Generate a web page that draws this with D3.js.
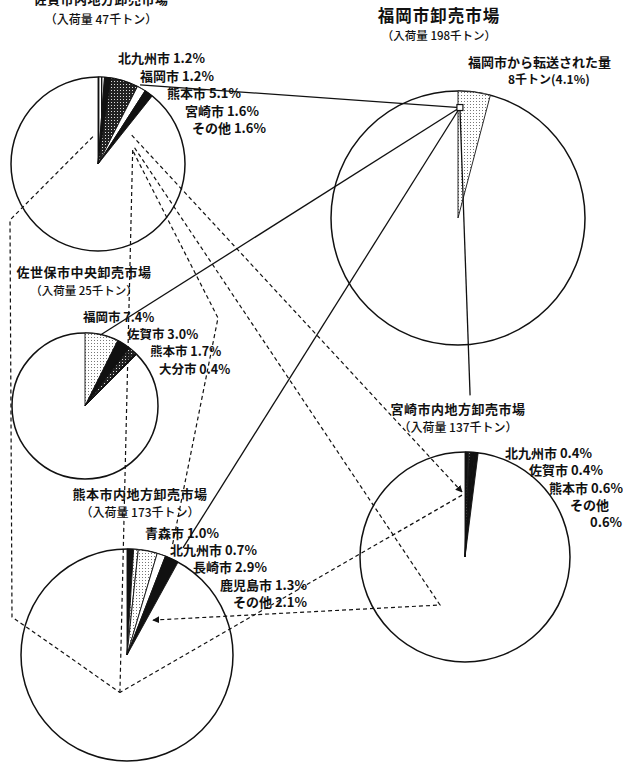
<!DOCTYPE html>
<html>
<head>
<meta charset="utf-8">
<script src="https://cdn.jsdelivr.net/npm/d3@7"></script>
<style>
  html, body { margin: 0; padding: 0; background: #fff; }
  svg { display: block; }
  text { font-family: "Noto Sans CJK JP", "Noto Sans", sans-serif; fill: #111; }
</style>
</head>
<body>
<div id="chart"></div>
<script>
// shares of each market's arrivals by origin city (%)
const sagaCities = [`北九州市`, `福岡市`, `熊本市`, `宮崎市`, `その他`];
const sagaShares = [1.2, 1.2, 5.1, 1.6, 1.6];

const fukuokaCities = [`福岡市から転送された量`];
const fukuokaShares = [4.1];

const saseboCities = [`福岡市`, `佐賀市`, `熊本市`, `大分市`];
const saseboShares = [7.4, 3.0, 1.7, 0.4];

const miyazakiCities = [`北九州市`, `佐賀市`, `熊本市`, `その他`];
const miyazakiShares = [0.4, 0.4, 0.6, 0.6];

const kumamotoCities = [`青森市`, `北九州市`, `長崎市`, `鹿児島市`, `その他`];
const kumamotoShares = [1.0, 0.7, 2.9, 1.3, 2.1];

// arrivals (千トン)
const marketNames = [`佐賀市内地方卸売市場`, `福岡市卸売市場`, `佐世保市中央卸売市場`, `宮崎市内地方卸売市場`, `熊本市内地方卸売市場`];
const marketVolumes = [47, 198, 25, 137, 173];

const width = 623;
const height = 764;

// layout of each pie (centre, radius, title and label placement)
const pies = [
  {key: `saga`, cities: sagaCities, shares: sagaShares, cx: 98, cy: 164, r: 87,
    fills: [`url(#vhatch)`, `#111`, `url(#dense)`, `#fff`, `#111`],
    title: {x: 101, y: [4, 24], size: [13, 12]},
    labels: {x: [118, 140, 167, 185, 192], y: 63, step: 17.5, size: 13}},
  {key: `fukuoka`, cities: fukuokaCities, shares: fukuokaShares, cx: 458, cy: 218, r: 127,
    fills: [`url(#dots)`],
    title: {x: 439, y: [22, 40], size: [16.5, 11.5]},
    labels: {x: [468], y: 67, step: 17, size: 13}},
  {key: `sasebo`, cities: saseboCities, shares: saseboShares, cx: 85, cy: 406, r: 73,
    fills: [`url(#dots)`, `#111`, `url(#dense)`, `#111`],
    title: {x: 84, y: [277, 295], size: [13, 11.5]},
    labels: {x: [83, 127, 150, 159], y: 322, step: 17.2, size: 12.5}},
  {key: `miyazaki`, cities: miyazakiCities, shares: miyazakiShares, cx: 465, cy: 557, r: 105,
    fills: [`#111`, `url(#dense)`, `#111`, `#111`],
    title: {x: 458, y: [414, 432], size: [13, 12]},
    labels: {x: [505, 529, 549, 570], y: 458, step: 17.3, size: 13}},
  {key: `kumamoto`, cities: kumamotoCities, shares: kumamotoShares, cx: 127, cy: 655, r: 106,
    fills: [`#111`, `url(#dots)`, `url(#dots)`, `#fff`, `#111`],
    title: {x: 140, y: [499, 517], size: [13, 12]},
    labels: {x: [145, 170, 193, 220, 233], y: 538, step: 17.2, size: 13}},
];
pies.forEach((p, i) => {
  p.name = marketNames[i];
  p.volume = marketVolumes[i];
});

const svg = d3.select(`#chart`)
  .append(`svg`)
    .attr(`width`, width)
    .attr(`height`, height);

const defs = svg.append(`defs`);

const vhatch = defs.append(`pattern`)
  .attr(`id`, `vhatch`)
  .attr(`patternUnits`, `userSpaceOnUse`)
  .attr(`width`, 3)
  .attr(`height`, 3);
vhatch.append(`rect`).attr(`width`, 3).attr(`height`, 3).attr(`fill`, `#fff`);
vhatch.append(`rect`).attr(`width`, 1.4).attr(`height`, 3).attr(`fill`, `#111`);

const dense = defs.append(`pattern`)
  .attr(`id`, `dense`)
  .attr(`patternUnits`, `userSpaceOnUse`)
  .attr(`width`, 3)
  .attr(`height`, 3);
dense.append(`rect`).attr(`width`, 3).attr(`height`, 3).attr(`fill`, `#222`);
dense.append(`rect`).attr(`x`, 1).attr(`y`, 1).attr(`width`, 1).attr(`height`, 1).attr(`fill`, `#ddd`);

const dots = defs.append(`pattern`)
  .attr(`id`, `dots`)
  .attr(`patternUnits`, `userSpaceOnUse`)
  .attr(`width`, 3)
  .attr(`height`, 3);
dots.append(`rect`).attr(`width`, 3).attr(`height`, 3).attr(`fill`, `#fff`);
dots.append(`rect`).attr(`width`, 1).attr(`height`, 1).attr(`fill`, `#777`);

defs.append(`marker`)
  .attr(`id`, `arrow`)
  .attr(`viewBox`, `0 0 10 10`)
  .attr(`refX`, 9)
  .attr(`refY`, 5)
  .attr(`markerWidth`, 7)
  .attr(`markerHeight`, 7)
  .attr(`markerUnits`, `userSpaceOnUse`)
  .attr(`orient`, `auto`)
  .append(`path`)
    .attr(`d`, `M0,0L10,5L0,10z`)
    .attr(`fill`, `#111`);

const pie = d3.pie().sort(null).value(d => d.value);

const byKey = {};
pies.forEach(p => { byKey[p.key] = p; });

// point inside/around a pie: angle clockwise from 12 o'clock, distance as a fraction of radius
const at = (key, deg, frac) => {
  const p = byKey[key];
  const a = deg * Math.PI / 180;
  return [p.cx + Math.sin(a) * p.r * frac, p.cy - Math.cos(a) * p.r * frac];
};

const gPies = svg.append(`g`).attr(`class`, `pies`);

pies.forEach(p => {
  const rest = 100 - d3.sum(p.shares);
  const data = p.shares.map((v, i) => ({city: p.cities[i], value: v, fill: p.fills[i]}))
    .concat([{city: null, value: rest, fill: `none`}]);
  const arc = d3.arc().innerRadius(0).outerRadius(p.r);

  const g = gPies.append(`g`)
    .attr(`transform`, `translate(${p.cx},${p.cy})`);

  g.append(`circle`)
    .attr(`r`, p.r)
    .attr(`fill`, `#fff`)
    .attr(`stroke`, `#111`)
    .attr(`stroke-width`, 1.5);

  g.selectAll(`path`)
    .data(pie(data).filter(d => d.data.city))
    .enter().append(`path`)
      .attr(`d`, arc)
      .attr(`fill`, d => d.data.fill)
      .attr(`stroke`, `#111`)
      .attr(`stroke-width`, 0.9)
      .attr(`stroke-linejoin`, `round`);
});

// links: Fukuoka transfer (solid) and flows between other markets (dashed)
const hub = at(`fukuoka`, 1, 0.87);
const solidLinks = [
  [hub, at(`saga`, 28, 1.03)],
  [hub, at(`sasebo`, 12, 0.99)],
  [hub, at(`kumamoto`, 27.6, 1.14)],
  [hub, at(`miyazaki`, 1.8, 1.54)],
];
const dashedLinks = [
  {pts: [at(`saga`, 349.5, 0.32), [10, 220], [12, 617], at(`kumamoto`, 190.7, 0.36)]},
  {pts: [at(`saga`, 68, 0.43), at(`kumamoto`, 190.7, 0.36)]},
  {pts: [at(`saga`, 71, 0.43), [218, 318], at(`kumamoto`, 22.8, 1.09)]},
  {pts: [at(`saga`, 66, 0.46), [440, 605], at(`kumamoto`, 36.6, 0.41)], arrow: true},
  {pts: [at(`saga`, 49.5, 0.51), at(`miyazaki`, 357.4, 0.62)], arrow: true},
  {pts: [at(`miyazaki`, 357.2, 0.59), at(`kumamoto`, 190.7, 0.36)]},
];

const line = d3.line();

const gLinks = svg.append(`g`).attr(`class`, `links`);

gLinks.selectAll(`.solid`)
  .data(solidLinks)
  .enter().append(`path`)
    .attr(`class`, `solid`)
    .attr(`d`, line)
    .attr(`fill`, `none`)
    .attr(`stroke`, `#111`)
    .attr(`stroke-width`, 1.3);

gLinks.selectAll(`.dashed`)
  .data(dashedLinks)
  .enter().append(`path`)
    .attr(`class`, `dashed`)
    .attr(`d`, d => line(d.pts))
    .attr(`fill`, `none`)
    .attr(`stroke`, `#111`)
    .attr(`stroke-width`, 1.2)
    .attr(`stroke-dasharray`, `4,3`)
    .attr(`marker-end`, d => d.arrow ? `url(#arrow)` : null);

gLinks.append(`rect`)
  .attr(`x`, hub[0] - 3)
  .attr(`y`, hub[1] - 3)
  .attr(`width`, 6)
  .attr(`height`, 6)
  .attr(`fill`, `#fff`)
  .attr(`stroke`, `#111`)
  .attr(`stroke-width`, 1.2);

// titles and labels
const gText = svg.append(`g`).attr(`class`, `texts`);

pies.forEach(p => {
  gText.append(`text`)
    .attr(`x`, p.title.x)
    .attr(`y`, p.title.y[0])
    .attr(`text-anchor`, `middle`)
    .attr(`font-size`, p.title.size[0])
    .attr(`font-weight`, 700)
    .attr(`letter-spacing`, p.key === `fukuoka` ? 1 : 0.5)
    .text(p.name);

  gText.append(`text`)
    .attr(`x`, p.title.x)
    .attr(`y`, p.title.y[1])
    .attr(`text-anchor`, `middle`)
    .attr(`font-size`, p.title.size[1])
    .attr(`font-weight`, 500)
    .text(`（入荷量 ${p.volume}千トン）`);

  if (p.key === `fukuoka`) {
    const v = p.shares[0];
    const tons = Math.round(p.volume * v / 100);
    gText.append(`text`)
      .attr(`x`, p.labels.x[0])
      .attr(`y`, p.labels.y)
      .attr(`font-size`, p.labels.size)
      .attr(`font-weight`, 700)
      .text(p.cities[0]);
    gText.append(`text`)
      .attr(`x`, p.labels.x[0] + 40)
      .attr(`y`, p.labels.y + p.labels.step)
      .attr(`font-size`, 12)
      .attr(`font-weight`, 700)
      .text(`${tons}千トン(${v.toFixed(1)}%)`);
    return;
  }

  p.cities.forEach((c, i) => {
    const t = gText.append(`text`)
      .attr(`x`, p.labels.x[i])
      .attr(`y`, p.labels.y + i * p.labels.step)
      .attr(`font-size`, p.labels.size)
      .attr(`font-weight`, 700);
    const pct = `${p.shares[i].toFixed(1)}%`;
    // the last Miyazaki label wraps onto a second line
    if (p.key === `miyazaki` && i === p.cities.length - 1) {
      t.text(c);
      gText.append(`text`)
        .attr(`x`, p.labels.x[i] + 20)
        .attr(`y`, p.labels.y + (i + 1) * p.labels.step)
        .attr(`font-size`, p.labels.size)
        .attr(`font-weight`, 700)
        .text(pct);
    } else {
      t.text(`${c} ${pct}`);
    }
  });
});
</script>
</body>
</html>
